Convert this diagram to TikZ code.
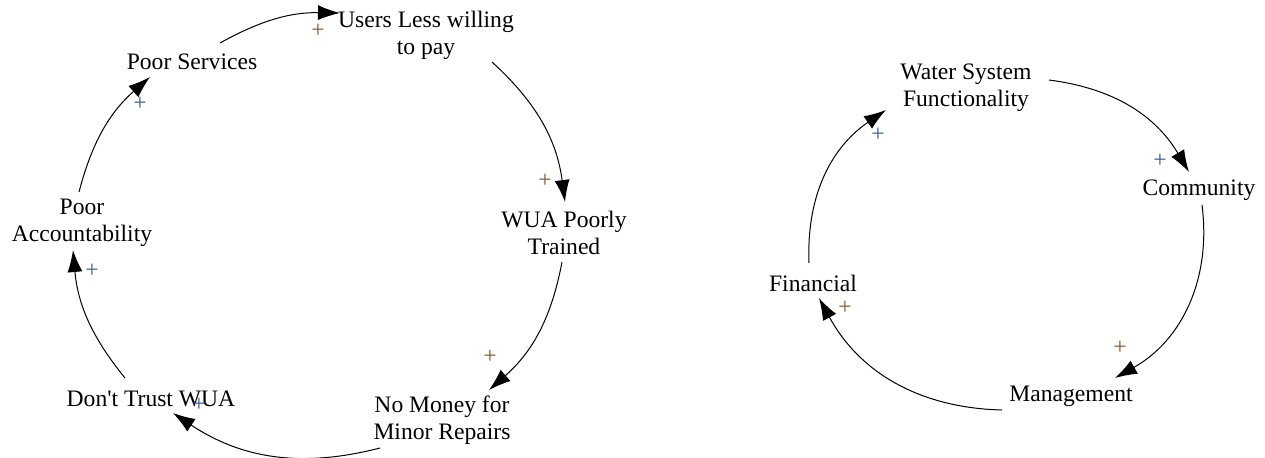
\documentclass[tikz,border=0pt]{standalone}
\usepackage{fontspec}
\setmainfont{Liberation Serif}
\usetikzlibrary{calc,arrows.meta,positioning}
\definecolor{plusbrown}{RGB}{140,85,40}
\definecolor{plusblue}{RGB}{55,95,150}
\tikzset{
  var/.style={
    align = center,
    inner sep = 1pt,
    font = \fontsize{11.8}{13.5}\selectfont
  },
  link/.style={
    -{Latex[length=11pt,width=7.5pt]},
    line width = 0.5pt
  },
  plusB/.style={
    text = plusbrown,
    inner sep = 0pt,
    font = \fontsize{11.8}{13.5}\selectfont
  },
  plusR/.style={
    text = plusblue,
    inner sep = 0pt,
    font = \fontsize{11.8}{13.5}\selectfont
  }
}

\begin{document}
\begin{tikzpicture}[x=0.5pt, y=-0.5pt]
        \useasboundingbox (0,0) rectangle (1265,457);

        % left loop
        \node[var] (users) at (426,35) {Users Less willing\\to pay};
        \node[var] (wua) at (564,233) {WUA Poorly\\Trained};
        \node[var] (money) at (442,420) {No Money for\\Minor Repairs};
        \node[var] (trust) at (151,399) {Don\textquotesingle t Trust WUA};
        \node[var] (acc) at (82,223) {Poor\\Accountability};
        \node[var] (serv) at (192,62) {Poor Services};

        \draw[link] ($(serv)+(28,-19)$) to[bend left=15] ($(users)+(-86,-22)$);
        \draw[link] ($(users)+(66,27)$) to[bend left=20] ($(wua)+(1,-31)$);
        \draw[link] ($(wua)+(-2,29)$) to[bend left=19] ($(money)+(47,-30)$);
        \draw[link] ($(money)+(-62,28)$) to[bend left=24] ($(trust)+(22,14)$);
        \draw[link] ($(trust)+(-26,-21)$) to[bend left=17] ($(acc)+(-9,27)$);
        \draw[link] ($(acc)+(-3,-31)$) to[bend left=17] ($(serv)+(-42,15)$);

        \node[plusB] (p1) at (318,31) {+};
        \node[plusB] (p2) at (545,181) {+};
        \node[plusB] (p3) at (490,357) {+};
        \node[plusR] (p4) at (199,405) {+};
        \node[plusR] (p5) at (92,271) {+};
        \node[plusR] (p6) at (140,104) {+};

        % right loop
        \node[var] (water) at (966,88) {Water System\\Functionality};
        \node[var] (comm) at (1199,190) {Community};
        \node[var] (mgmt) at (1071,396) {Management};
        \node[var] (fin) at (813,283) {Financial};

        \draw[link] ($(water)+(83,-8)$) to[bend left=26] ($(comm)+(-10,-18)$);
        \draw[link] ($(comm)+(3,15)$) to[bend left=34] ($(mgmt)+(44,-18)$);
        \draw[link] ($(mgmt)+(-69,14)$) to[bend left=30] ($(fin)+(6,15)$);
        \draw[link] ($(fin)+(-4,-20)$) to[bend left=29] ($(water)+(-80,22)$);

        \node[plusR] (p7) at (878,135) {+};
        \node[plusR] (p8) at (1160,161) {+};
        \node[plusB] (p9) at (1120,348) {+};
        \node[plusB] (p10) at (845,308) {+};
\end{tikzpicture}
\end{document}
